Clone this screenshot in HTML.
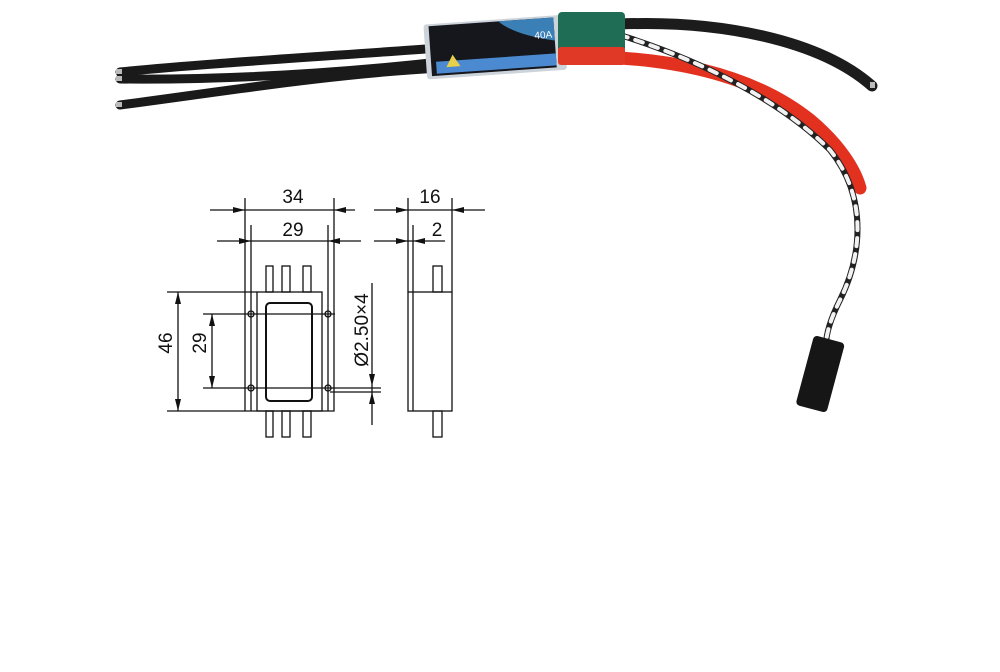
<!DOCTYPE html>
<html><head><style>
html,body{margin:0;padding:0;background:#fff;width:1000px;height:672px;overflow:hidden}
</style></head><body>
<svg width="1000" height="672" viewBox="0 0 1000 672" xmlns="http://www.w3.org/2000/svg" font-family="Liberation Sans, sans-serif">
<rect width="1000" height="672" fill="#fff"/>
<!-- photo: wires -->
<g fill="none" stroke-linecap="round">
  <path d="M120,72 C200,64 300,58 440,48" stroke="#1a1a1a" stroke-width="9"/>
  <path d="M120,79 C220,80 330,74 440,62" stroke="#1a1a1a" stroke-width="9"/>
  <path d="M120,105 C220,92 330,74 440,68" stroke="#1a1a1a" stroke-width="9"/>
  <path d="M620,24 C720,20 820,40 872,86" stroke="#1c1c1c" stroke-width="11"/>
  <path d="M600,57 C690,60 760,80 810,120 C840,145 855,170 860,188" stroke="#e2321f" stroke-width="13"/>
  <path d="M620,35 C700,60 780,100 830,150 C870,200 860,260 840,300 C830,320 826,335 826,345" stroke="#222" stroke-width="6"/>
  <path d="M620,35 C700,60 780,100 830,150 C870,200 860,260 840,300 C830,320 826,335 826,345" stroke="#f2f2f2" stroke-width="4" stroke-dasharray="8 8"/>
</g>
<rect x="116" y="69" width="6" height="5" fill="#bbb"/>
<rect x="116" y="76" width="6" height="5" fill="#bbb"/>
<rect x="116" y="102" width="6" height="5" fill="#bbb"/>
<rect x="870" y="82" width="5" height="6" fill="#bbb"/>
<!-- ESC body -->
<g transform="rotate(-4 490 45)">
  <rect x="425" y="20" width="140" height="55" rx="3" fill="#ccd3da"/>
  <rect x="430" y="22" width="125" height="50" fill="#15171d"/>
  <path d="M500,22 L555,22 L555,45 C530,40 510,32 500,22Z" fill="#3a7fb5"/>
  <rect x="435" y="58" width="120" height="12" fill="#4b8ad0"/>
  <polygon points="445,64 452,52 459,64" fill="#e8d04a"/>
  <text x="535" y="42" font-size="10" fill="#fff">40A</text>
</g>
<rect x="558" y="12" width="67" height="40" rx="4" fill="#1f6d55"/>
<rect x="558" y="47" width="67" height="18" rx="3" fill="#e03a27"/>
<!-- connector -->
<g transform="rotate(15 820 375)">
  <rect x="804" y="338" width="32" height="72" rx="4" fill="#161616"/>
</g>
<!-- drawing -->
<g stroke="#111" fill="none" stroke-width="1.3">
  <!-- front view -->
  <rect x="257" y="292" width="65" height="119"/>
  <rect x="266" y="303" width="46" height="98" rx="4" stroke-width="2"/>
  <path d="M245,198 V411 H334 V198 M251,225 V411 M328,225 V411"/>
  <rect x="266" y="266" width="7" height="26"/><rect x="282" y="266" width="8" height="26"/><rect x="303" y="266" width="8" height="26"/>
  <rect x="266" y="411" width="7" height="26"/><rect x="282" y="411" width="8" height="26"/><rect x="303" y="411" width="8" height="26"/>
  <circle cx="251" cy="314" r="3"/><circle cx="328" cy="314" r="3"/>
  <circle cx="251" cy="388" r="3"/><circle cx="328" cy="388" r="3"/>
  <path d="M203,314 H335 M203,388 H381 M330,392 H381"/>
  <!-- 34 / 29 dims -->
  <path d="M210,210 H355 M217,241 H361"/>
  <!-- 46 / 29 vertical -->
  <path d="M167,292 H257 M167,411 H245 M178,292 V411 M212,314 V388"/>
  <!-- phi -->
  <path d="M372,283 V425"/>
  <!-- side view -->
  <rect x="408" y="292" width="44" height="119"/>
  <path d="M413,292 V411 M408,198 V292 M452,198 V292 M413,225 V292"/>
  <rect x="433" y="266" width="9" height="26"/><rect x="433" y="411" width="9" height="26"/>
  <path d="M374,210 H485 M374,241 H445"/>
</g>
<g fill="#111">
  <polygon points="245,210 233,207 233,213"/><polygon points="334,210 346,207 346,213"/>
  <polygon points="251,241 239,238 239,244"/><polygon points="328,241 340,238 340,244"/>
  <polygon points="408,210 396,207 396,213"/><polygon points="452,210 464,207 464,213"/>
  <polygon points="408,241 396,238 396,244"/><polygon points="413,241 425,238 425,244"/>
  <polygon points="178,292 175,304 181,304"/><polygon points="178,411 175,399 181,399"/>
  <polygon points="212,314 209,326 215,326"/><polygon points="212,388 209,376 215,376"/>
  <polygon points="372,386 369,374 375,374"/><polygon points="372,392 369,404 375,404"/>
</g>
<g font-size="19" fill="#111" text-anchor="middle">
  <text x="293" y="203">34</text>
  <text x="293" y="236">29</text>
  <text x="430" y="203">16</text>
  <text x="437" y="236">2</text>
  <text transform="translate(172,343) rotate(-90)">46</text>
  <text transform="translate(206,343) rotate(-90)">29</text>
  <text transform="translate(368,330) rotate(-90)">Ø2.50×4</text>
</g>
</svg>
</body></html>
